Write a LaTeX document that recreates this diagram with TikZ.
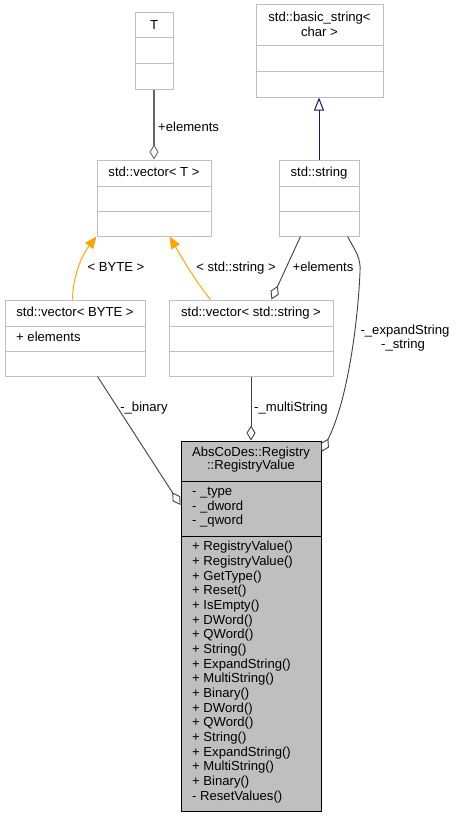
\documentclass[tikz,border=0pt]{standalone}
\usepackage{fontspec}
\setmainfont{Liberation Sans}
\usetikzlibrary{arrows.meta,calc,fit}
\definecolor{boxline}{HTML}{BFBFBF}
\definecolor{edgecol}{HTML}{404040}
\definecolor{tmplcol}{HTML}{FFA500}
\definecolor{inhcol}{HTML}{191970}
\definecolor{focusfill}{HTML}{BFBFBF}
\begin{document}
\begin{tikzpicture}[x=1pt,y=-1pt,
  txt/.style={font=\fontsize{13.1}{14.6}\selectfont, inner sep=0pt, text height=9.6pt, text depth=2.7pt},
  umlbox/.style={draw=boxline, fill=white, line width=1pt, inner sep=0pt},
  focusbox/.style={draw=black, fill=focusfill, line width=1pt, inner sep=0pt},
  divider/.style={draw=boxline, line width=1pt},
  focusdiv/.style={draw=black, line width=1pt},
  usage/.style={draw=edgecol, line width=0.9pt,
    -{Diamond[open,length=15pt,width=9pt,line width=0.9pt,fill=white]}},
  tusage/.style={usage, draw=gray!80!black, line width=1.3pt},
  tmpl/.style={draw=tmplcol, line width=1pt,
    -{Triangle[length=12pt,width=10pt,fill=tmplcol]}},
  inherit/.style={draw=inhcol, line width=1pt,
    -{Triangle[open,length=13pt,width=10pt,fill=white,line width=1pt]}},
  lab/.style={txt},
]
\useasboundingbox (0,0) rectangle (455,816);

% class boxes
\node[umlbox, fit={(135,13)(173,89)}] (T) {};
\draw[divider] (T.west |- 0,38) -- (T.east |- 0,38);
\draw[divider] (T.west |- 0,64) -- (T.east |- 0,64);
\node[txt] (Tt) at (154,26) {T};

\node[umlbox, fit={(256,5)(383,97)}] (bs) {};
\draw[divider] (bs.west |- 0,46) -- (bs.east |- 0,46);
\draw[divider] (bs.west |- 0,71) -- (bs.east |- 0,71);
\node[txt] (bst1) at (319.5,18) {std::basic\_string<};
\node[txt] (bst2) at (319.5,33) {char >};

\node[umlbox, fit={(97,160)(211,236)}] (vt) {};
\draw[divider] (vt.west |- 0,186) -- (vt.east |- 0,186);
\draw[divider] (vt.west |- 0,211) -- (vt.east |- 0,211);
\node[txt] (vtt) at (154,173) {std::vector< T >};

\node[umlbox, fit={(279,160)(359,236)}] (ss) {};
\draw[divider] (ss.west |- 0,186) -- (ss.east |- 0,186);
\draw[divider] (ss.west |- 0,211) -- (ss.east |- 0,211);
\node[txt] (sst) at (319,173) {std::string};

\node[umlbox, fit={(5,300)(145,376)}] (vb) {};
\draw[divider] (vb.west |- 0,326) -- (vb.east |- 0,326);
\draw[divider] (vb.west |- 0,351) -- (vb.east |- 0,351);
\node[txt] (vbt) at (75,313) {std::vector< BYTE >};
\node[txt, anchor=west] (vba) at (16,338) {+ elements};

\node[umlbox, fit={(169,300)(333,376)}] (vs) {};
\draw[divider] (vs.west |- 0,326) -- (vs.east |- 0,326);
\draw[divider] (vs.west |- 0,351) -- (vs.east |- 0,351);
\node[txt] (vst) at (251,313) {std::vector< std::string >};

\node[focusbox, fit={(181,441)(321,811)}] (rv) {};
\draw[focusdiv] (rv.west |- 0,481) -- (rv.east |- 0,481);
\draw[focusdiv] (rv.west |- 0,536) -- (rv.east |- 0,536);
\node[txt] (rvt1) at (251,453) {AbsCoDes::Registry};
\node[txt] (rvt2) at (251,466) {::RegistryValue};
\foreach \a [count=\i from 0] in {\_type,\_dword,\_qword}
  \node[txt, anchor=west] (rva\i) at (192,492.3+14.4*\i) {- \a};
\foreach \m [count=\i from 0] in {RegistryValue(),RegistryValue(),GetType(),Reset(),IsEmpty(),DWord(),QWord(),String(),ExpandString(),MultiString(),Binary(),DWord(),QWord(),String(),ExpandString(),MultiString(),Binary()}
  \node[txt, anchor=west] (rvm\i) at (192,547.3+14.67*\i) {+ \m};
\node[txt, anchor=west] (rvm17) at (192,796.7) {- ResetValues()};

% relations
\draw[tusage] (T.south) -- (vt.north);
\node[lab, anchor=west] (l1) at (158,128) {+elements};

\draw[inherit] (ss.north) -- (ss.north |- bs.south);

\draw[tmpl] ([xshift=68pt]vb.north west) .. controls (73,275) and (82,255) .. (vt.south west);
\node[lab] (l2) at (116,268) {< BYTE >};

\draw[tmpl] ([xshift=42pt]vs.north west) .. controls (196,282) and (182,258) .. ([xshift=73pt]vt.south west);
\node[lab] (l3) at (236,268) {< std::string >};

\draw[usage] ([xshift=22pt]ss.south west) -- ([xshift=103pt]vs.north west);
\node[lab] (l4) at (323,268) {+elements};

\draw[usage] ([xshift=69pt]ss.south west) .. controls (356,252) and (361,258) .. (360,272)
  .. controls (358,320) and (348,400) .. (rv.east |- 0,452);
\node[lab] (l5a) at (405,331) {-\_expandString};
\node[lab] (l5b) at (403,345) {-\_string};

\draw[usage] ([xshift=93pt]vb.south west) -- (rv.west |- 0,505);
\node[lab] (l6) at (144,408) {-\_binary};

\draw[usage] (vs.south) -- (rv.north);
\node[lab] (l7) at (291,408) {-\_multiString};
\end{tikzpicture}
\end{document}
